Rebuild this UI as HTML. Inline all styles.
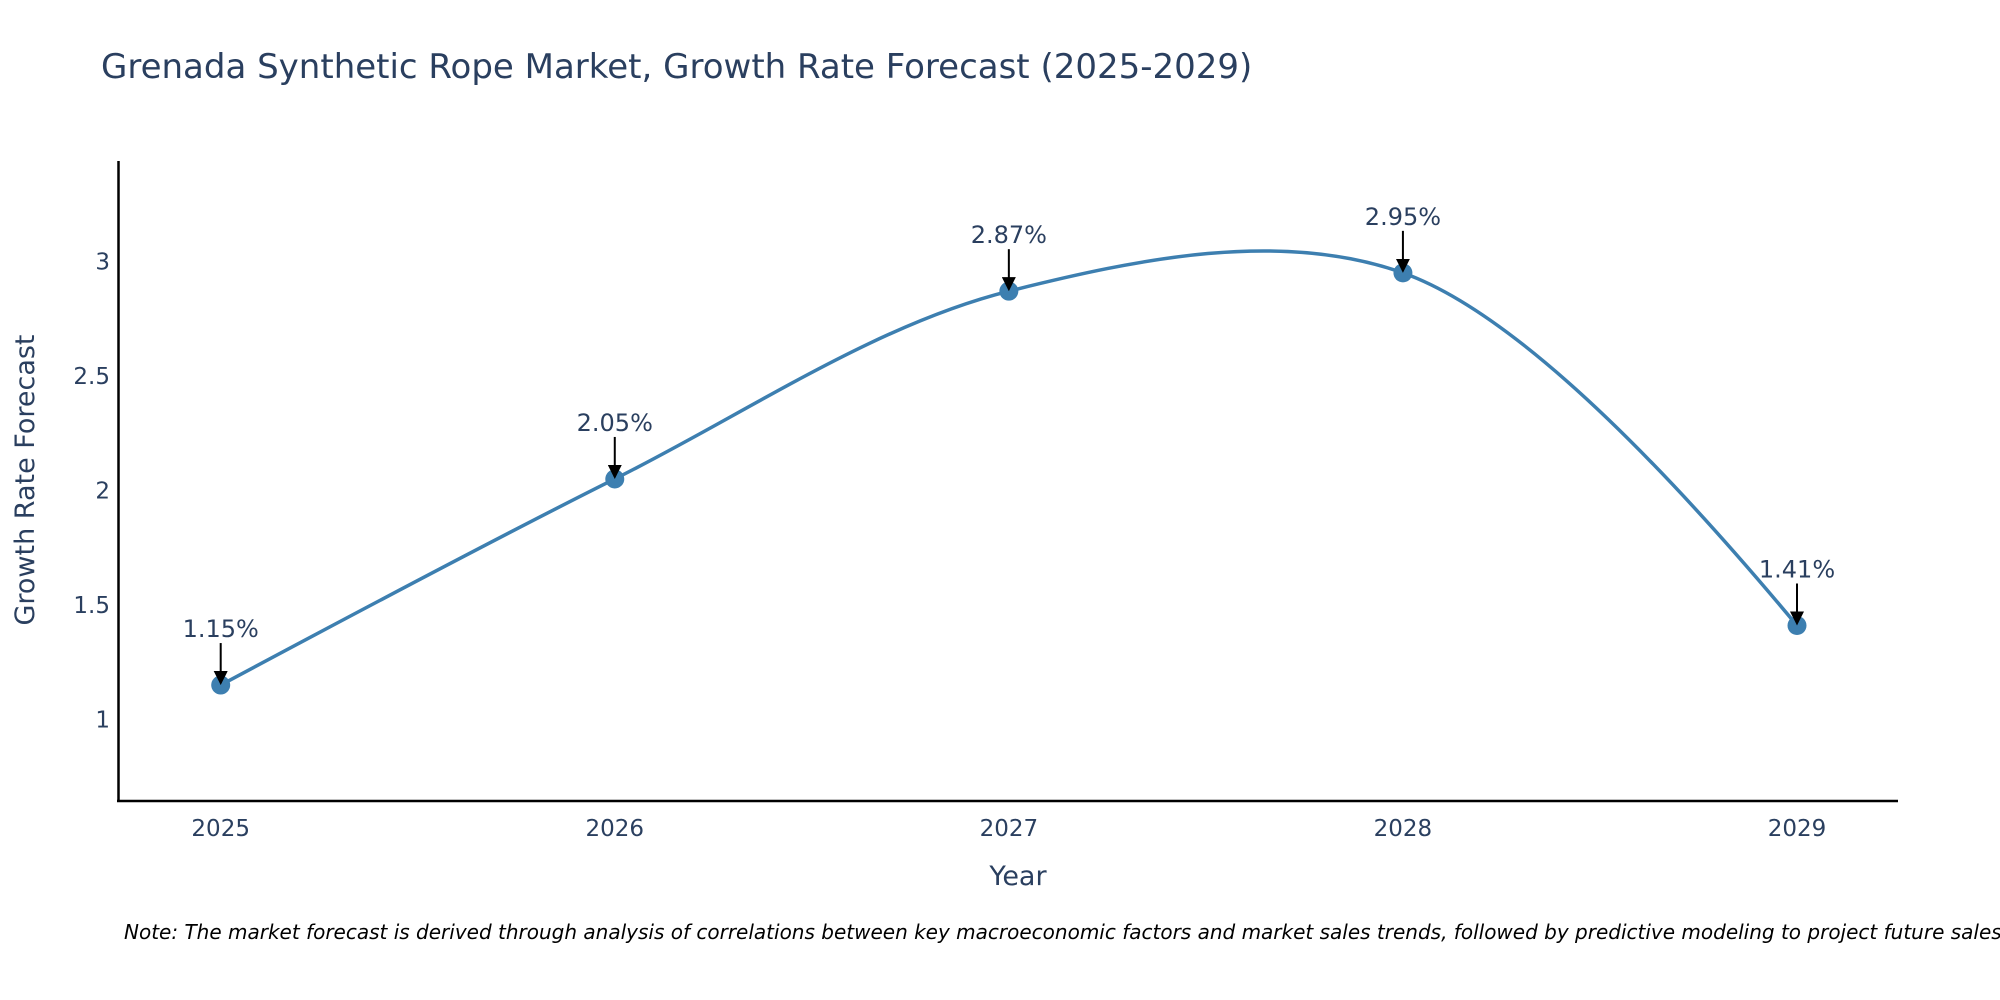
<!DOCTYPE html>
<html><head><meta charset="utf-8"><style>
body{margin:0;background:#fff;overflow:hidden;}
svg{display:block;font-family:"DejaVu Sans","Liberation Sans",sans-serif;}
</style></head><body>
<svg id="chart" width="2000" height="1000">
<text x="101" y="78" font-size="34" fill="#2a3f5f">Grenada Synthetic Rope Market, Growth Rate Forecast (2025-2029)</text>
<g id="yticks"></g><g id="xticks"></g>
<line x1="118.5" y1="161" x2="118.5" y2="802" stroke="#000" stroke-width="2.5"/>
<line x1="117" y1="801" x2="1898" y2="801" stroke="#000" stroke-width="2.5"/>
<path id="line" fill="none" stroke="#3d7fb0" stroke-width="3.5"/>
<g id="points"></g>
<text x="1018" y="885" font-size="27" fill="#2a3f5f" text-anchor="middle">Year</text>
<text transform="translate(34,480) rotate(-90)" font-size="27" fill="#2a3f5f" text-anchor="middle">Growth Rate Forecast</text>
<text x="124" y="939" font-size="20" font-style="italic" fill="#000">Note: The market forecast is derived through analysis of correlations between key macroeconomic factors and market sales trends, followed by predictive modeling to project future sales.</text>
<defs><marker id="ah" markerWidth="14" markerHeight="14" refX="12" refY="7" orient="auto" markerUnits="userSpaceOnUse"><path d="M0,0 L14,7 L0,14 z" fill="#000"/></marker></defs>
</svg>
<script>
const years=[2025,2026,2027,2028,2029];
const values=[1.15,2.05,2.87,2.95,1.41];
const labels=["1.15%","2.05%","2.87%","2.95%","1.41%"];
const yTickVals=[1,1.5,2,2.5,3];
const yTickLabels=["1","1.5","2","2.5","3"];
const NS="http://www.w3.org/2000/svg";
const X=v=>220.7+(v-2025)*(1797-220.7)/4;
const Y=v=>719.4-(v-1)*229;
function mk(t,a,p){const e=document.createElementNS(NS,t);for(const k in a)e.setAttribute(k,a[k]);(p||document.getElementById('chart')).appendChild(e);return e;}
const yt=document.getElementById('yticks');
yTickVals.forEach((v,i)=>{const t=mk('text',{x:110,y:Y(v)+8,'font-size':23,fill:'#2a3f5f','text-anchor':'end'},yt);t.textContent=yTickLabels[i];

});
const xt=document.getElementById('xticks');
years.forEach(y=>{const t=mk('text',{x:X(y),y:836,'font-size':23,fill:'#2a3f5f','text-anchor':'middle'},xt);t.textContent=y;

});
const pts=years.map((y,i)=>[X(y),Y(values[i])]);
function tan(a,b,c){const d1x=a[0]-b[0],d1y=a[1]-b[1],d2x=c[0]-b[0],d2y=c[1]-b[1];
const d1a=Math.pow(d1x*d1x+d1y*d1y,0.25),d2a=Math.pow(d2x*d2x+d2y*d2y,0.25);
const nx=d2a*d2a*d1x-d1a*d1a*d2x,ny=d2a*d2a*d1y-d1a*d1a*d2y;
const den1=3*d2a*(d1a+d2a),den2=3*d1a*(d1a+d2a);
return [[b[0]+nx/den1,b[1]+ny/den1],[b[0]-nx/den2,b[1]-ny/den2]];}
const T=[];for(let i=1;i<pts.length-1;i++)T.push(tan(pts[i-1],pts[i],pts[i+1]));
const P=p=>p[0].toFixed(2)+','+p[1].toFixed(2);
let d='M'+P(pts[0])+'Q'+P(T[0][0])+' '+P(pts[1]);
for(let i=2;i<pts.length-1;i++)d+='C'+P(T[i-2][1])+' '+P(T[i-1][0])+' '+P(pts[i]);
d+='Q'+P(T[pts.length-3][1])+' '+P(pts[pts.length-1]);
document.getElementById('line').setAttribute('d',d);
const pg=document.getElementById('points');
pts.forEach((p,i)=>{
const c=mk('circle',{cx:p[0],cy:p[1],r:9.5,fill:'#3d7fb0'},pg);


const l=mk('line',{x1:p[0],y1:p[1]-42,x2:p[0],y2:p[1]-2,stroke:'#000','stroke-width':2,'marker-end':'url(#ah)'},pg);


const t=mk('text',{x:p[0],y:p[1]-48,'font-size':24,fill:'#2a3f5f','text-anchor':'middle'},pg);t.textContent=labels[i];


});
</script>
</body></html>
